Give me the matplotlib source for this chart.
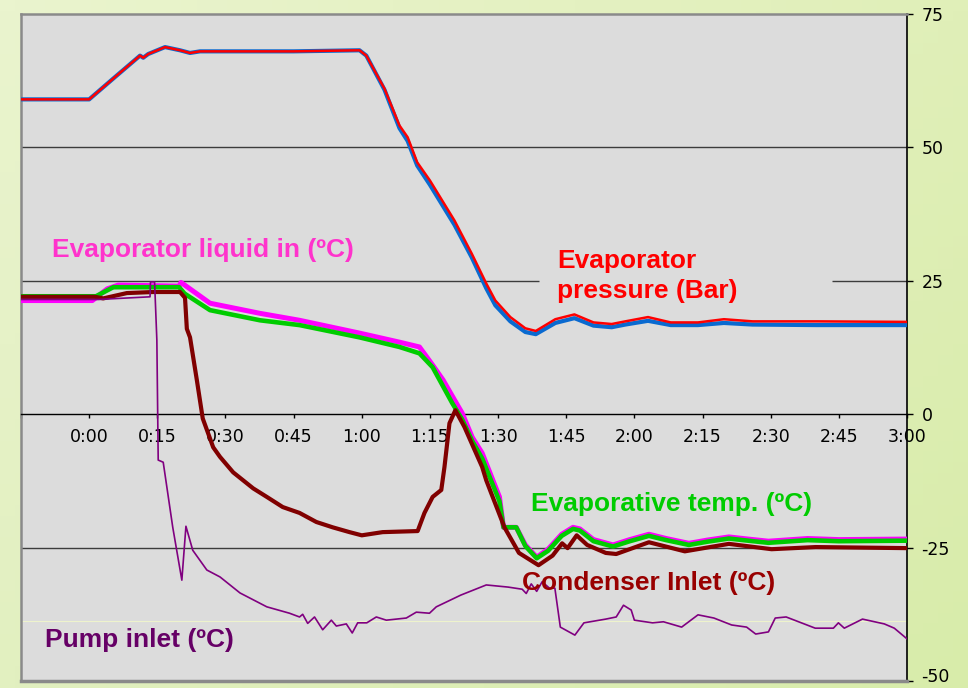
import numpy as np
import matplotlib
matplotlib.use('Agg')
import matplotlib.pyplot as plt
from matplotlib.transforms import ScaledTranslation

plt.rcParams['font.family'] = ['Liberation Sans', 'DejaVu Sans']
plt.rcParams['axes.unicode_minus'] = False

# time axis is in minutes from 0:00

# Evaporator pressure (Bar): red trace and the blue trace under it
press_t = [-15, 0, 5.3, 11.2, 11.9, 13, 16.7, 20, 22.2, 24.4, 35, 45, 59.5, 61, 65,
           68.3, 70.1, 72.2, 75, 80.4, 84.2, 87.4, 89.4, 92.7, 96, 98.3, 102.6, 106.8,
           111, 115, 118, 123, 128, 134, 139.7, 146, 160, 180]
press_red = [59.0, 59.0, 62.9, 67.2, 66.8, 67.5, 68.8, 68.2, 67.7, 68.0, 68.0, 68.0, 68.2, 67.2, 61.0,
             54.1, 51.9, 47.2, 43.8, 36.3, 30.1, 24.5, 21.3, 18.2, 16.1, 15.6, 17.8, 18.7,
             17.2, 16.9, 17.4, 18.2, 17.2, 17.2, 17.8, 17.4, 17.4, 17.3]
press_blue = [59.0, 59.0, 62.9, 67.2, 66.8, 67.5, 68.8, 68.2, 67.7, 68.0, 68.0, 68.0, 68.2, 67.2, 60.8,
              53.6, 51.2, 46.6, 43.0, 35.5, 29.4, 23.6, 20.4, 17.4, 15.4, 15.0, 17.1, 18.0,
              16.6, 16.3, 16.8, 17.5, 16.7, 16.7, 17.1, 16.8, 16.7, 16.7]

# Evaporator liquid in (C)
liq_t = [-15, 0.7, 4, 6.4, 19.8, 20.2, 26.6, 37.6, 46.3, 59.5, 68.3, 72.7, 75.6, 77.9, 80.8,
         82.1, 84.3, 86.5, 90.3, 91.2, 94, 96, 98.5, 101, 104, 106.5, 108, 111, 115.3, 119,
         123.2, 127, 132, 136, 140.8, 145, 149.5, 158.1, 165, 180]
liq_v = [21.3, 21.3, 23.5, 24.2, 24.0, 24.7, 20.8, 18.9, 17.6, 15.2, 13.5, 12.6, 9.2, 6.4, 2.1,
         0.2, -4.3, -7.3, -15.5, -21.2, -21.2, -24.5, -26.8, -25.3, -22.5, -21.2, -21.5, -23.5, -24.5, -23.5,
         -22.5, -23.3, -24.2, -23.6, -23.0, -23.4, -23.8, -23.3, -23.5, -23.4]

# Evaporative temp. (C)
evap_t = [-15, 1.5, 5.3, 19.8, 21, 26.6, 37.6, 46.3, 59.5, 68.3, 72.7, 75.6, 79.9, 82.1, 84.3,
          86.5, 90.3, 91.2, 94, 96, 98.5, 101, 104, 106.5, 108, 111, 115.3, 119, 123.2, 127,
          132, 136, 140.8, 145, 149.5, 158.1, 165, 180]
evap_v = [22.1, 22.1, 23.8, 23.8, 22.6, 19.5, 17.6, 16.7, 14.4, 12.6, 11.4, 8.8, 2.1, -1.0, -5.0,
          -8.3, -16.3, -21.2, -21.2, -24.7, -27.0, -25.6, -22.8, -21.5, -21.8, -23.8, -24.8, -23.8, -22.8, -23.6,
          -24.5, -23.9, -23.3, -23.7, -24.1, -23.6, -23.8, -23.7]

# Condenser Inlet (C)
cond_t = [-15, 1.3, 3.1, 8.3, 14.1, 20, 21.1, 21.5, 22.2, 23.7, 25, 27.3, 28.8, 31.7, 36.1,
          39.1, 42.6, 46.3, 50, 53.6, 57.3, 60, 64.6, 72.3, 73.8, 75.6, 77.5, 78.2, 79.3, 80.6,
          82.6, 86.5, 87.4, 91.4, 94.6, 98.9, 102, 104.1, 105.3, 107.3, 109.6, 113.7, 116, 123.2,
          131.1, 140.8, 150.2, 159.9, 180]
cond_v = [22.0, 22.0, 21.7, 22.7, 22.9, 22.9, 21.8, 16.0, 14.4, 6.4, -0.8, -6.2, -8.0, -10.9, -13.9,
          -15.5, -17.4, -18.5, -20.2, -21.2, -22.1, -22.7, -22.1, -21.9, -18.5, -15.5, -14.2, -9.9, -1.7, 0.75,
          -2.4, -9.9, -12.4, -21.2, -26.0, -28.3, -26.5, -24.2, -25.1, -22.7, -24.5, -26.0, -26.2, -24.0,
          -25.7, -24.3, -25.3, -24.9, -25.1]

# Pump inlet (C)
pump_t = [-15, 2, 13.4, 13.5, 14.4, 14.9, 15.2, 16.3, 18.4, 20.4, 21.3, 22.8, 25.9, 28.8, 33.2,
          39.1, 44.1, 46.3, 47, 48.1, 49.6, 51.4, 53.3, 54.4, 56.6, 57.9, 59.1, 61.1, 63.2, 65.4,
          69.8, 72, 74.9, 76.4, 81.8, 87.4, 92.2, 95.3, 96.2, 97.3, 98.5, 99.7, 101.3, 102.5, 103.7,
          106.9, 108.9, 113.7, 116, 117.6, 119.3, 120, 124, 126.4, 130.4, 134, 137.5, 141.4, 144.7,
          146.7, 149.5, 151, 153.4, 159.8, 163.8, 164.9, 166.2, 170.2, 175, 177.2, 180]
pump_v = [21.5, 21.5, 22.0, 24.8, 24.8, 13.9, -8.6, -9.0, -21.2, -31.1, -21.0, -25.5, -29.2, -30.5, -33.5,
          -36.1, -37.3, -38.0, -37.5, -39.2, -38.0, -40.4, -38.6, -39.7, -39.3, -41.0, -39.1, -39.1, -38.0, -38.6,
          -38.2, -37.1, -37.3, -36.1, -33.9, -32.0, -32.4, -32.8, -33.6, -31.8, -33.2, -31.4, -32.6, -32.6, -39.9,
          -41.4, -39.1, -38.4, -38.0, -35.8, -36.7, -38.6, -39.1, -38.9, -39.9, -37.6, -38.2, -39.5, -39.9,
          -41.2, -40.8, -38.2, -38.0, -40.1, -40.1, -39.1, -40.1, -38.4, -39.3, -40.1, -42.1]

x_ticks = list(range(-15, 181, 15))
y_ticks = [-50, -25, 0, 25, 50, 75]

for a, b in [(press_t, press_red), (press_t, press_blue), (liq_t, liq_v), (evap_t, evap_v),
             (cond_t, cond_v), (pump_t, pump_v)]:
    assert len(a) == len(b), (len(a), len(b))


def fmt_time(m):
    if m < 0:
        return ''
    return f'{m // 60}:{m % 60:02d}'


fig = plt.figure(figsize=(9.68, 6.88), dpi=100)

# pale green slide background
bg = fig.add_axes([0, 0, 1, 1], zorder=-10)
c_tl = np.array([234, 244, 206]) / 255
c_tr = np.array([224, 239, 184]) / 255
c_bl = np.array([226, 240, 192]) / 255
c_br = np.array([216, 236, 170]) / 255
u = np.linspace(0, 1, 64)[None, :, None]
w = np.linspace(0, 1, 64)[:, None, None]
grad = (c_tl * (1 - u) * (1 - w) + c_tr * u * (1 - w) + c_bl * (1 - u) * w + c_br * u * w)
bg.imshow(grad, aspect='auto', extent=[0, 1, 0, 1])
bg.axis('off')

ax = fig.add_axes([21 / 968, 7 / 688, 886 / 968, 667 / 688])
ax.set_facecolor('#DCDCDC')
ax.set_xlim(-15, 180)
ax.set_ylim(-50, 75)

# gridlines (the 25 one is broken by the pressure label)
for g in (50, -25):
    ax.axhline(g, color='#3c3c3c', lw=1.0, zorder=1)
ax.hlines(25, -15, 99, color='#3c3c3c', lw=1.0, zorder=1)
ax.hlines(25, 163.4, 180, color='#3c3c3c', lw=1.0, zorder=1)
ax.axhline(-38.8, color='#EEF3CC', lw=0.8, zorder=1)

# frame
for side in ('left', 'top'):
    ax.spines[side].set_color('#8a8a8a')
    ax.spines[side].set_linewidth(1.8)
ax.plot([0, 1], [0, 0], transform=ax.transAxes, color='#8a8a8a', lw=2.5, clip_on=False, zorder=10)
ax.spines['bottom'].set_position(('data', 0))
ax.spines['bottom'].set_color('black')
ax.spines['bottom'].set_linewidth(1.0)
ax.spines['right'].set_color('black')
ax.spines['right'].set_linewidth(1.2)

# the chart's tick text is stretched wide, DejaVu matches its size better
tick_font = dict(family='DejaVu Sans', size=12.5)
ax.yaxis.tick_right()
ax.set_yticks(y_ticks)
# bottom label drawn by hand a few px higher so it is not clipped
ax.set_yticklabels(['' if v == -50 else str(v) for v in y_ticks], fontdict=tick_font)
ax.tick_params(axis='y', direction='out', length=4.5, width=1, pad=6)
shift = ScaledTranslation(10.5 / 72, 4 / 100, fig.dpi_scale_trans)
ax.text(1.0, -50, str(y_ticks[0]), transform=ax.get_yaxis_transform() + shift,
        ha='left', va='center', fontdict=tick_font)
ax.xaxis.set_ticks_position('bottom')
ax.set_xticks(x_ticks)
ax.set_xticklabels([fmt_time(m) for m in x_ticks], fontdict=tick_font)
ax.tick_params(axis='x', direction='out', length=3, width=1, pad=7)

# series
ax.plot(press_t, press_blue, color='#0A6AD0', lw=3.0, zorder=3, solid_joinstyle='round')
ax.plot(press_t, press_red, color='#FF0000', lw=1.8, zorder=4, solid_joinstyle='round')
ax.plot(liq_t, liq_v, color='#FF00FF', lw=3.6, zorder=3, solid_joinstyle='round')
ax.plot(evap_t, evap_v, color='#00CC00', lw=3.3, zorder=4, solid_joinstyle='round')
ax.plot(cond_t, cond_v, color='#800000', lw=3.0, zorder=5, solid_joinstyle='round')
ax.plot(pump_t, pump_v, color='#800080', lw=1.2, zorder=6, solid_joinstyle='round')

# labels
lab = dict(fontsize=19, fontweight='bold', va='center', ha='left', zorder=8)
ax.text(-8.2, 30.8, 'Evaporator liquid in (ºC)', color='#FF33CC', **lab)
ax.text(103, 25.9, 'Evaporator\npressure (Bar)', color='#FF0000', linespacing=1.28, **lab)
ax.text(97.3, -16.8, 'Evaporative temp. (ºC)', color='#00CC00', **lab)
ax.text(95.3, -31.6, 'Condenser Inlet (ºC)', color='#990000', **lab)
ax.text(-9.7, -42.4, 'Pump inlet (ºC)', color='#660066', **lab)

fig.savefig('out.png', dpi=100)
